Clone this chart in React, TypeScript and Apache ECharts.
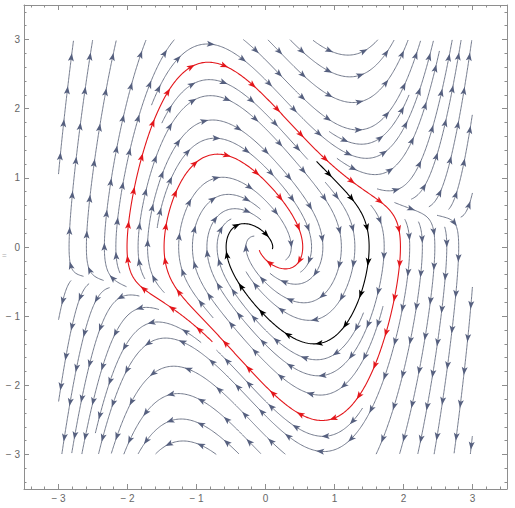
import React, { useEffect, useRef } from "react";
import * as echarts from "echarts";

// Vector field (Van der Pol type oscillator, reversed damping):
// x' = y,  y' = -x - MU (1 - x^2) y   -> unstable limit cycle, stable focus at origin
const MU = 1.0;
const fieldRange = [-3, 3];
const axisRange = [-3.5, 3.5];
const majorTicks = [-3, -2, -1, 0, 1, 2, 3];
const minorTicks = [
  -3.4, -3.2, -2.8, -2.6, -2.4, -2.2, -1.8, -1.6, -1.4, -1.2, -0.8, -0.6, -0.4, -0.2,
  0.2, 0.4, 0.6, 0.8, 1.2, 1.4, 1.6, 1.8, 2.2, 2.4, 2.6, 2.8, 3.2, 3.4,
];
// highlighted streamlines (seed points)
const redSeed: [number, number] = [-1.47, 0.0];
const blackSeed: [number, number] = [0.74, 1.24];

type P = [number, number];
const H = 0.02;
const DSEP = 0.23;
const DTEST = 0.12;
const ARROW_SPACING = 0.5;

function dirAt(x: number, y: number): P | null {
  const vx = y;
  const vy = -x - MU * (1 - x * x) * y;
  const m = Math.hypot(vx, vy);
  if (m < 1e-9) return null;
  return [vx / m, vy / m];
}
function rk4(p: P, h: number): P | null {
  const k1 = dirAt(p[0], p[1]);
  if (!k1) return null;
  const k2 = dirAt(p[0] + 0.5 * h * k1[0], p[1] + 0.5 * h * k1[1]);
  if (!k2) return null;
  const k3 = dirAt(p[0] + 0.5 * h * k2[0], p[1] + 0.5 * h * k2[1]);
  if (!k3) return null;
  const k4 = dirAt(p[0] + h * k3[0], p[1] + h * k3[1]);
  if (!k4) return null;
  return [
    p[0] + (h / 6) * (k1[0] + 2 * k2[0] + 2 * k3[0] + k4[0]),
    p[1] + (h / 6) * (k1[1] + 2 * k2[1] + 2 * k3[1] + k4[1]),
  ];
}

interface GP { x: number; y: number; id: number; s: number; }
class Grid {
  cells = new Map<number, GP[]>();
  key(i: number, j: number) { return i * 1000 + j; }
  idx(v: number) { return Math.floor((v + 4) / DSEP); }
  add(g: GP) {
    const k = this.key(this.idx(g.x), this.idx(g.y));
    let a = this.cells.get(k);
    if (!a) { a = []; this.cells.set(k, a); }
    a.push(g);
  }
  remove(list: GP[]) {
    for (const g of list) {
      const k = this.key(this.idx(g.x), this.idx(g.y));
      const a = this.cells.get(k);
      if (!a) continue;
      const i = a.indexOf(g);
      if (i >= 0) a.splice(i, 1);
    }
  }
  near(x: number, y: number, r: number, id: number, s: number, gap: number) {
    const ci = this.idx(x), cj = this.idx(y);
    const r2 = r * r;
    for (let di = -1; di <= 1; di++) {
      for (let dj = -1; dj <= 1; dj++) {
        const a = this.cells.get(this.key(ci + di, cj + dj));
        if (!a) continue;
        for (const q of a) {
          if (q.id === id && Math.abs(q.s - s) < gap) continue;
          const dx = q.x - x, dy = q.y - y;
          if (dx * dx + dy * dy < r2) return true;
        }
      }
    }
    return false;
  }
}

interface TraceOpts { maxBack: number; maxFwd: number; stopR: number; dtest: number; selfGap: number; }
function inside(p: P) {
  return p[0] >= fieldRange[0] && p[0] <= fieldRange[1] && p[1] >= fieldRange[0] && p[1] <= fieldRange[1];
}
function trace(grid: Grid, seed: P, id: number, o: TraceOpts) {
  const back: P[] = [];
  const fwd: P[] = [];
  const added: GP[] = [];
  const addPt = (p: P, s: number) => {
    const g = { x: p[0], y: p[1], id, s };
    grid.add(g);
    added.push(g);
  };
  addPt(seed, 0);
  for (const sign of [1, -1]) {
    const maxL = sign > 0 ? o.maxFwd : o.maxBack;
    const arr = sign > 0 ? fwd : back;
    let p = seed;
    let s = 0;
    while (Math.abs(s) + H <= maxL) {
      const q = rk4(p, sign * H);
      if (!q || !inside(q)) break;
      if (Math.hypot(q[0], q[1]) < o.stopR) break;
      const ns = s + sign * H;
      if (o.dtest > 0 && grid.near(q[0], q[1], o.dtest, id, ns, o.selfGap)) break;
      arr.push(q);
      addPt(q, ns);
      p = q;
      s = ns;
    }
  }
  return { pts: [...back.reverse(), seed, ...fwd], added };
}

function buildStreamlines() {
  const grid = new Grid();
  let nextId = 1;
  const red = trace(grid, redSeed, nextId++, { maxBack: 15.5, maxFwd: 30, stopR: 0.1, dtest: 0, selfGap: 0 }).pts;
  const black = trace(grid, blackSeed, nextId++, { maxBack: 0, maxFwd: 30, stopR: 0.1, dtest: 0, selfGap: 0 }).pts;
  const grey: P[][] = [];
  const queue: P[] = [];
  const seedsFrom = (pts: P[]) => {
    for (let k = 0; k < pts.length; k += 4) {
      const p = pts[k];
      const d = dirAt(p[0], p[1]);
      if (!d) continue;
      const nx = -d[1], ny = d[0];
      queue.push([p[0] + DSEP * nx, p[1] + DSEP * ny]);
      queue.push([p[0] - DSEP * nx, p[1] - DSEP * ny]);
    }
  };
  const trySeed = (sd: P) => {
    if (!inside(sd) || Math.hypot(sd[0], sd[1]) < 0.25) return;
    if (grid.near(sd[0], sd[1], DSEP * 0.92, -1, 0, 0)) return;
    const res = trace(grid, sd, nextId++, { maxBack: 40, maxFwd: 40, stopR: 0.14, dtest: DTEST, selfGap: 0.5 });
    if (res.pts.length < 14) { grid.remove(res.added); return; }
    grey.push(res.pts);
    seedsFrom(res.pts);
  };
  const drain = () => { while (queue.length) trySeed(queue.shift() as P); };
  seedsFrom(red);
  seedsFrom(black);
  drain();
  for (let x = fieldRange[0]; x <= fieldRange[1]; x += 0.1) {
    for (let y = fieldRange[0]; y <= fieldRange[1]; y += 0.1) {
      trySeed([x, y]);
      drain();
    }
  }
  return { red, black, grey };
}

function arrowsFor(pts: P[], out: any[], dedupe: boolean) {
  const cum: number[] = [0];
  for (let i = 1; i < pts.length; i++) cum.push(cum[i - 1] + Math.hypot(pts[i][0] - pts[i - 1][0], pts[i][1] - pts[i - 1][1]));
  const L = cum[cum.length - 1];
  if (L <= 0) return;
  const n = Math.max(1, Math.round(L / ARROW_SPACING));
  let i = 0;
  for (let k = 0; k < n; k++) {
    const target = ((k + 0.5) * L) / n;
    while (i < cum.length - 1 && cum[i] < target) i++;
    const p = pts[i];
    const d = dirAt(p[0], p[1]);
    if (!d) continue;
    if (dedupe && out.some((a) => Math.hypot(a.value[0] - p[0], a.value[1] - p[1]) < 0.25)) continue;
    out.push({ value: [p[0], p[1]], symbolRotate: (Math.atan2(d[1], d[0]) * 180) / Math.PI - 90 });
  }
}

const FRAME = "#8e8e8e";
const LABEL = "#666666";
const GREY_LINE = "#737a8c";
const GREY_ARROW = "#56607f";
const RED = "#e3161b";
const ARROW = "path://M0,0L4.5,11L0,8.5L-4.5,11Z";

const fmt = (v: number) => (v < 0 ? "\u2212 " + Math.abs(v) : String(v));

export default function App() {
  const ref = useRef<HTMLDivElement>(null);
  useEffect(() => {
    if (!ref.current) return;
    const chart = echarts.init(ref.current, undefined, { renderer: "svg" });
    const { red, black, grey } = buildStreamlines();
    const greyArrows: any[] = [];
    grey.forEach((l) => arrowsFor(l, greyArrows, false));
    const redArrows: any[] = [];
    arrowsFor(red, redArrows, true);
    const blackArrows: any[] = [];
    arrowsFor(black, blackArrows, false);

    const base = {
      type: "value" as const,
      min: axisRange[0],
      max: axisRange[1],
      splitLine: { show: false },
    };
    const major = (pos: string, labels: boolean) => ({
      ...base,
      position: pos,
      axisLine: { show: true, onZero: false, lineStyle: { color: FRAME, width: 1 } },
      axisTick: { show: true, inside: true, length: 5, customValues: majorTicks, lineStyle: { color: FRAME } },
      axisLabel: labels
        ? { show: true, customValues: majorTicks, formatter: fmt, color: LABEL, fontSize: 10, margin: 4, fontFamily: "Liberation Sans, Arial, sans-serif" }
        : { show: false },
    });
    const minor = (pos: string) => ({
      ...base,
      position: pos,
      axisLine: { show: false, onZero: false },
      axisTick: { show: true, inside: true, length: 2.5, customValues: minorTicks, lineStyle: { color: FRAME } },
      axisLabel: { show: false },
    });

    chart.setOption({
      animation: false,
      backgroundColor: "#ffffff",
      grid: { left: 24, right: 8, top: 5, bottom: 19, containLabel: false },
      xAxis: [major("bottom", true), minor("bottom"), major("top", false), minor("top")],
      yAxis: [major("left", true), minor("left"), major("right", false), minor("right")],
      graphic: [
        { type: "text", left: 2, top: 251, style: { text: "=", fill: "#aaaaaa", fontSize: 8 } },
      ],
      series: [
        {
          type: "lines",
          coordinateSystem: "cartesian2d",
          polyline: true,
          silent: true,
          z: 2,
          lineStyle: { color: GREY_LINE, width: 1, opacity: 1 },
          data: grey.map((c) => ({ coords: c })),
        },
        {
          type: "lines",
          coordinateSystem: "cartesian2d",
          polyline: true,
          silent: true,
          z: 3,
          lineStyle: { color: RED, width: 1.1, opacity: 1 },
          data: [{ coords: red }],
        },
        {
          type: "lines",
          coordinateSystem: "cartesian2d",
          polyline: true,
          silent: true,
          z: 3,
          lineStyle: { color: "#000000", width: 1.1, opacity: 1 },
          data: [{ coords: black }],
        },
        {
          type: "scatter",
          silent: true,
          z: 4,
          symbol: ARROW,
          symbolSize: [6, 8],
          itemStyle: { color: GREY_ARROW, opacity: 1 },
          data: greyArrows,
        },
        {
          type: "scatter",
          silent: true,
          z: 5,
          symbol: ARROW,
          symbolSize: [6, 8],
          itemStyle: { color: RED, opacity: 1 },
          data: redArrows,
        },
        {
          type: "scatter",
          silent: true,
          z: 5,
          symbol: ARROW,
          symbolSize: [6, 8],
          itemStyle: { color: "#000000", opacity: 1 },
          data: blackArrows,
        },
      ],
    });
    return () => chart.dispose();
  }, []);
  return <div ref={ref} style={{ position: "absolute", left: 0, top: 0, width: 515, height: 508 }} />;
}
